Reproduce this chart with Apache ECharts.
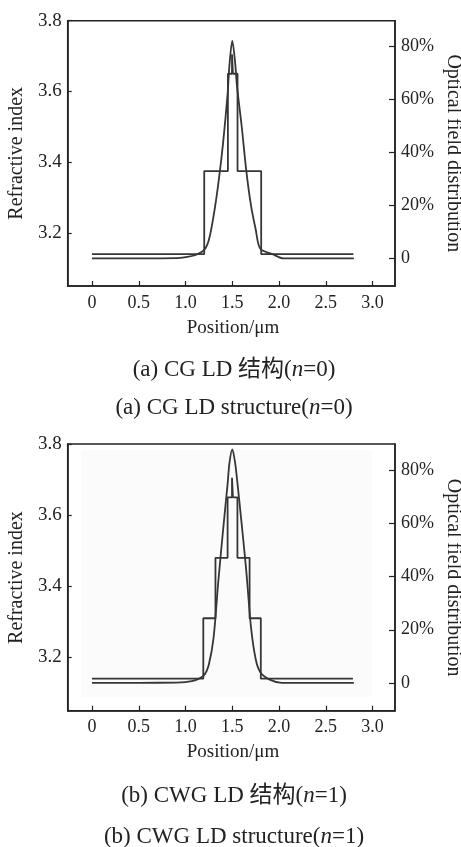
<!DOCTYPE html>
<html>
<head>
<meta charset="utf-8">
<script src="https://cdn.jsdelivr.net/npm/echarts@6/dist/echarts.min.js"></script>
<style>
html,body{margin:0;padding:0;background:#fff;}
#c{width:461px;height:847px;}
</style>
</head>
<body>
<div id="c"></div>
<script>
// ---- data ----
const xTicks = [0, 0.5, 1.0, 1.5, 2.0, 2.5, 3.0];
const nTicks = [3.2, 3.4, 3.6, 3.8];
const pTicks = [0, 20, 40, 60, 80];

// (a) CG LD: refractive index step profile (segment edges and levels)
const indexEdgesA = [0, 1.2, 1.453, 1.497, 1.507, 1.556, 1.809, 2.795];
const indexLevelsA = [3.14, 3.375, 3.65, 3.705, 3.65, 3.375, 3.14];
// (a) optical field distribution (%)
const fieldXA = [0, 0.5, 0.9, 1.0, 1.1, 1.2, 1.25, 1.3, 1.35, 1.4, 1.45, 1.47, 1.5, 1.53, 1.55, 1.6, 1.65, 1.7, 1.75, 1.8, 1.93, 2.05, 2.8];
const fieldVA = [0, 0, 0.1, 0.5, 1.2, 3.2, 7, 16, 28, 43, 62, 73, 82, 74, 65, 50, 33, 20, 11, 3.6, 1.6, 0, 0];

// (b) CWG LD
const indexEdgesB = [0, 1.19, 1.32, 1.45, 1.497, 1.507, 1.555, 1.685, 1.805, 2.79];
const indexLevelsB = [3.14, 3.31, 3.48, 3.65, 3.705, 3.65, 3.48, 3.31, 3.14];
const fieldXB = [0, 0.5, 0.9, 1.0, 1.1, 1.2, 1.25, 1.3, 1.35, 1.4, 1.45, 1.47, 1.5, 1.53, 1.55, 1.6, 1.65, 1.7, 1.75, 1.8, 1.9, 2.03, 2.8];
const fieldVB = [0, 0, 0.1, 0.3, 0.9, 3, 7, 17, 38, 57, 75, 83, 88, 83, 77, 60, 42, 21, 9, 4, 1.2, 0, 0];

// ---- helpers ----
function stepPairs(edges, levels) {
  const out = [];
  for (let i = 0; i < levels.length; i++) {
    out.push([edges[i], levels[i]]);
    out.push([edges[i + 1], levels[i]]);
  }
  return out;
}
function zip(xs, ys) { return xs.map((x, i) => [x, ys[i]]); }

const FONT = "'Liberation Serif', 'Times New Roman', 'Noto Sans CJK SC', serif";
const TXT = '#222';
const LINE = '#363636';

const grids = [
  { left: 67.7, top: 20.7, width: 327.3, height: 265.3 },
  { left: 67.7, top: 444, width: 327.3, height: 266.7 }
];
const pRange = [[-10.4, 89.6], [-10.5, 90]];

const option = {
  backgroundColor: '#fff',
  animation: false,
  grid: grids.map(g => Object.assign({ show: true, borderColor: '#222', borderWidth: 1.5, backgroundColor: 'transparent', containLabel: false }, g)),
  xAxis: [0, 1].map(i => ({
    type: 'value', gridIndex: i, min: -0.26, max: 3.24,
    axisLine: { show: true, onZero: false, lineStyle: { color: '#222', width: 1.5 } },
    axisTick: { show: true, inside: true, length: 5, customValues: xTicks, lineStyle: { color: '#222', width: 1.2 } },
    axisLabel: { customValues: xTicks, margin: 8, color: TXT, fontSize: 18, fontFamily: FONT,
      formatter: v => v === 0 ? '0' : v.toFixed(1) },
    splitLine: { show: false }
  })),
  yAxis: [
    ...[0, 1].map(i => ({
      type: 'value', gridIndex: i, min: 3.05, max: 3.8, position: 'left',
      axisLine: { show: true, onZero: false, lineStyle: { color: '#222', width: 1.5 } },
      axisTick: { show: true, inside: true, length: 4, customValues: nTicks, lineStyle: { color: '#222', width: 1.2 } },
      axisLabel: { customValues: nTicks, margin: 6, color: TXT, fontSize: 19, fontFamily: FONT,
        formatter: v => v.toFixed(1) },
      splitLine: { show: false }
    })),
    ...[0, 1].map(i => ({
      type: 'value', gridIndex: i, min: pRange[i][0], max: pRange[i][1], position: 'right',
      axisLine: { show: true, onZero: false, lineStyle: { color: '#222', width: 1.5 } },
      axisTick: { show: true, inside: true, length: 6, customValues: pTicks, lineStyle: { color: '#222', width: 1.2 } },
      axisLabel: { customValues: pTicks, margin: 6, color: TXT, fontSize: 18, fontFamily: FONT,
        formatter: v => v === 0 ? '0' : v + '%' },
      splitLine: { show: false }
    }))
  ],
  series: [
    { type: 'line', xAxisIndex: 0, yAxisIndex: 0, data: stepPairs(indexEdgesA, indexLevelsA), showSymbol: false,
      lineStyle: { color: LINE, width: 1.8 }, z: 3 },
    { type: 'line', xAxisIndex: 0, yAxisIndex: 2, data: zip(fieldXA, fieldVA), showSymbol: false, smooth: 0.3,
      lineStyle: { color: LINE, width: 1.8 }, z: 3 },
    { type: 'line', xAxisIndex: 1, yAxisIndex: 1, data: stepPairs(indexEdgesB, indexLevelsB), showSymbol: false,
      lineStyle: { color: LINE, width: 1.8 }, z: 3 },
    { type: 'line', xAxisIndex: 1, yAxisIndex: 3, data: zip(fieldXB, fieldVB), showSymbol: false, smooth: 0.3,
      lineStyle: { color: LINE, width: 1.8 }, z: 3 }
  ],
  graphic: [
    { type: 'rect', shape: { x: 81, y: 450, width: 291, height: 247 }, style: { fill: '#fbfbfb' }, z: -1, silent: true },
    ...[[153.3, 328, 370, 408.3, 'a', 'CG', '0'], [577.6, 752.3, 796, 837.3, 'b', 'CWG', '1']].map(r => [
      { type: 'text', x: 16.7, y: r[0], rotation: Math.PI / 2, style: { text: 'Refractive index', fontSize: 20, fontFamily: FONT, fill: TXT, align: 'center', verticalAlign: 'middle' } },
      { type: 'text', x: 453, y: r[0], rotation: -Math.PI / 2, style: { text: 'Optical field distribution', fontSize: 20, fontFamily: FONT, fill: TXT, align: 'center', verticalAlign: 'middle' } },
      { type: 'text', x: 233, y: r[1], style: { text: 'Position/μm', fontSize: 19, fontFamily: FONT, fill: TXT, align: 'center', verticalAlign: 'middle' } },
      { type: 'text', x: 234, y: r[2], style: { text: '(' + r[4] + ') ' + r[5] + ' LD 结构({i|n}=' + r[6] + ')', fontSize: 23, fontFamily: FONT, fill: TXT, align: 'center', verticalAlign: 'middle',
        rich: { i: { fontStyle: 'italic', fontSize: 23, fontFamily: FONT, fill: TXT } } } },
      { type: 'text', x: 234, y: r[3], style: { text: '(' + r[4] + ') ' + r[5] + ' LD structure({i|n}=' + r[6] + ')', fontSize: 23, fontFamily: FONT, fill: TXT, align: 'center', verticalAlign: 'middle',
        rich: { i: { fontStyle: 'italic', fontSize: 23, fontFamily: FONT, fill: TXT } } } }
    ]).flat()
  ]
};

const chart = echarts.init(document.getElementById('c'), null, { renderer: 'canvas' });
chart.setOption(option);
</script>
</body>
</html>
